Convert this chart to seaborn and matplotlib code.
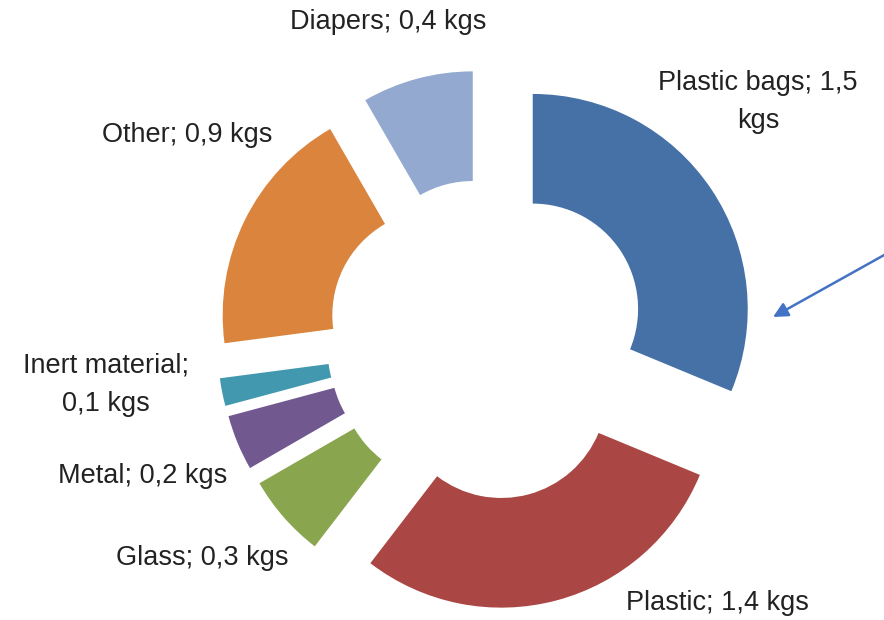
import numpy as np
import matplotlib.pyplot as plt
import seaborn as sns

# Waste composition (kgs), clockwise from 12 o'clock
categories = ['Plastic bags', 'Plastic', 'Glass', 'Metal', 'Inert material', 'Other', 'Diapers']
weights_kg = [1.5, 1.4, 0.3, 0.2, 0.1, 0.9, 0.4]
label_texts = ['Plastic bags; 1,5\nkgs', 'Plastic; 1,4 kgs', 'Glass; 0,3 kgs',
               'Metal; 0,2 kgs', 'Inert material;\n0,1 kgs', 'Other; 0,9 kgs',
               'Diapers; 0,4 kgs']
colors = ['#4571A7', '#AA4643', '#89A54E', '#71588F', '#4198AF', '#DB843D', '#93A9CF']

sns.set_style('white')
plt.rcParams['font.family'] = ['Liberation Sans', 'DejaVu Sans']

fig = plt.figure(figsize=(8.84, 6.2), dpi=100)
ax = fig.add_axes([0, 0, 1, 1])

# axes units are pixels (y up)
R = 215
ax.pie(weights_kg, colors=colors, radius=R, center=(487, 280.5),
       startangle=90, counterclock=False, explode=[55] * len(weights_kg),
       wedgeprops=dict(width=R * 0.51, linewidth=0, antialiased=True))
ax.set_xlim(0, 884)
ax.set_ylim(0, 620)
ax.set_aspect('equal')
ax.axis('off')

# label placement (pixels), same order as categories
label_pos = [(758, 518), (717, 17), (202, 62), (143, 144), (106, 235), (187, 485), (388, 598)]
for txt, (x, y) in zip(label_texts, label_pos):
    ax.text(x, y, txt, ha='center', va='center', fontsize=19.5,
            color='#222222', multialignment='center', linespacing=1.6)

# callout arrow pointing at plastic bags
ax.annotate('', xy=(773, 303), xytext=(886, 366),
            arrowprops=dict(arrowstyle='-|>', color='#4472C4', lw=1.8,
                            mutation_scale=22, shrinkA=0, shrinkB=0))

fig.savefig('out.png', dpi=100)
